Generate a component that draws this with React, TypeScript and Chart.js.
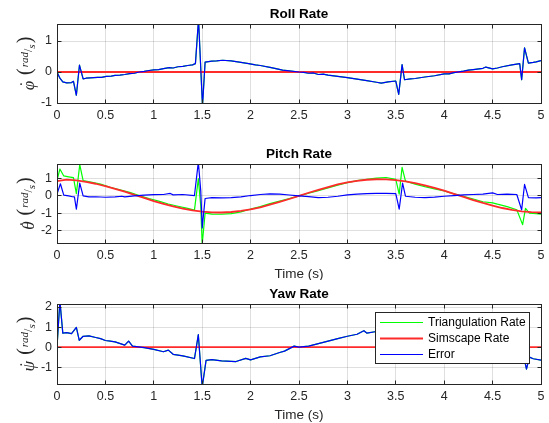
import React, { useEffect, useRef } from "react";
import { Chart, registerables } from "chart.js";

Chart.register(...registerables);

// ---------- shared ----------
const seriesNames = ["Triangulation Rate", "Simscape Rate", "Error"];
const seriesColors = ["#00ff00", "#ff2a2a", "#0000ff"];
const seriesWidths = [1.2, 1.8, 1.2];
const timeTicks = [0, 0.5, 1, 1.5, 2, 2.5, 3, 3.5, 4, 4.5, 5];
const timeTickLabels = ["0", "0.5", "1", "1.5", "2", "2.5", "3", "3.5", "4", "4.5", "5"];
const timeRange = [0, 5];
const xLabelText = "Time (s)";

// ---------- Roll Rate ----------
const rollTitle = "Roll Rate";
const rollSymbol = "φ";
const rollYTicks = [-1, 0, 1];
const rollYTickLabels = ["-1", "0", "1"];
const rollYRange = [-1, 1.55];
const rollErrorTime = [
  0, 0.03, 0.06, 0.1, 0.15, 0.17, 0.2, 0.232, 0.27, 0.3, 0.34, 0.38, 0.42, 0.46, 0.51, 0.56, 0.6, 0.65, 0.7, 0.75,
  0.8, 0.85, 0.9, 0.95, 1.0, 1.05, 1.1, 1.16, 1.2, 1.25, 1.3, 1.35, 1.4, 1.43, 1.462, 1.503, 1.53, 1.6, 1.65, 1.71,
  1.8, 1.9, 1.98, 2.05, 2.1, 2.2, 2.25, 2.33, 2.4, 2.5, 2.55, 2.6, 2.65, 2.7, 2.75, 2.8, 2.9, 3.0, 3.1, 3.2,
  3.3, 3.35, 3.42, 3.5, 3.53, 3.565, 3.59, 3.65, 3.7, 3.8, 3.9, 4.0, 4.05, 4.1, 4.2, 4.25, 4.3, 4.4, 4.43, 4.5,
  4.55, 4.6, 4.7, 4.78, 4.8, 4.83, 4.87, 4.92, 4.95, 5.0,
];
const rollErrorValue = [
  0, -0.2, -0.32, -0.35, -0.34, -0.3, -0.75, 0.22, -0.22, -0.2, -0.19, -0.18, -0.17, -0.17, -0.14, -0.13, -0.11, -0.1, -0.08, -0.05,
  -0.04, 0.0, 0.02, 0.05, 0.07, 0.08, 0.11, 0.14, 0.13, 0.17, 0.18, 0.21, 0.23, 0.27, 1.7, -1.1, 0.32, 0.35, 0.36, 0.38,
  0.36, 0.31, 0.27, 0.23, 0.21, 0.15, 0.12, 0.06, 0.04, 0.0, -0.01, -0.04, -0.03, -0.08, -0.07, -0.1, -0.14, -0.18, -0.23, -0.28,
  -0.33, -0.36, -0.32, -0.29, -0.72, 0.24, -0.25, -0.22, -0.21, -0.16, -0.12, -0.06, -0.06, -0.02, 0.03, 0.06, 0.08, 0.12, 0.16, 0.1,
  0.13, 0.17, 0.23, 0.27, -0.25, 0.78, 0.29, 0.31, 0.33, 0.37,
];
const rollSimTime = [0, 5];
const rollSimValue = [0, 0];
// triangulation equals the error here (Simscape rate is zero), hidden under the blue line
const rollTriTime = rollErrorTime;
const rollTriValue = rollErrorValue;

// ---------- Pitch Rate ----------
const pitchTitle = "Pitch Rate";
const pitchSymbol = "θ";
const pitchYTicks = [-2, -1, 0, 1];
const pitchYTickLabels = ["-2", "-1", "0", "1"];
const pitchYRange = [-2.72, 1.84];
const pitchSimTime = [
  0, 0.1, 0.2, 0.3, 0.4, 0.5, 0.6, 0.7, 0.8, 0.9, 1.0, 1.1, 1.2, 1.3, 1.4, 1.5, 1.6, 1.7, 1.8, 1.9,
  2.0, 2.1, 2.2, 2.3, 2.4, 2.5, 2.6, 2.7, 2.8, 2.9, 3.0, 3.1, 3.2, 3.3, 3.4, 3.5, 3.6, 3.7, 3.8, 3.9,
  4.0, 4.1, 4.2, 4.3, 4.4, 4.5, 4.6, 4.7, 4.8, 4.9, 5.0,
];
const pitchSimValue = [
  0.85, 0.94, 0.89, 0.81, 0.7, 0.56, 0.41, 0.24, 0.06, -0.12, -0.3, -0.46, -0.61, -0.74, -0.84, -0.91, -0.95, -0.96, -0.93, -0.87,
  -0.78, -0.66, -0.51, -0.35, -0.18, 0.0, 0.18, 0.35, 0.51, 0.66, 0.78, 0.87, 0.93, 0.96, 0.95, 0.91, 0.84, 0.74, 0.61, 0.46,
  0.3, 0.12, -0.06, -0.24, -0.41, -0.56, -0.7, -0.81, -0.89, -0.94, -0.96,
];
const pitchTriTime = [
  0, 0.03, 0.07, 0.12, 0.17, 0.2, 0.235, 0.27, 0.35, 0.45, 0.55, 0.65, 0.75, 0.85, 0.95, 1.05, 1.15, 1.25, 1.35, 1.42,
  1.46, 1.485, 1.5, 1.53, 1.6, 1.7, 1.8, 1.9, 2.0, 2.1, 2.2, 2.3, 2.4, 2.5, 2.6, 2.7, 2.8, 2.9, 3.0, 3.1,
  3.2, 3.3, 3.4, 3.5, 3.535, 3.565, 3.6, 3.7, 3.8, 3.9, 4.0, 4.1, 4.2, 4.3, 4.4, 4.5, 4.55, 4.65, 4.75, 4.81,
  4.84, 4.88, 4.95, 5.0,
];
const pitchTriValue = [
  0.9, 1.55, 1.15, 1.1, 1.05, 0.13, 1.8, 0.88, 0.8, 0.68, 0.5, 0.35, 0.2, 0.02, -0.15, -0.3, -0.47, -0.6, -0.72, -0.82,
  1.0, -0.6, -2.8, -1.0, -1.05, -1.06, -1.02, -0.92, -0.76, -0.62, -0.45, -0.3, -0.15, 0.0, 0.15, 0.3, 0.46, 0.62, 0.76, 0.88,
  0.96, 1.02, 1.06, 0.95, 0.1, 1.65, 0.85, 0.68, 0.53, 0.4, 0.28, 0.12, -0.03, -0.18, -0.34, -0.4, -0.48, -0.62, -0.8, -1.66,
  -0.72, -1.0, -1.03, -1.05,
];
const pitchErrorTime = [
  0, 0.035, 0.07, 0.12, 0.16, 0.18, 0.2, 0.235, 0.27, 0.33, 0.4, 0.5, 0.6, 0.67, 0.7, 0.8, 0.9, 1.0, 1.1, 1.17,
  1.2, 1.3, 1.42, 1.46, 1.485, 1.5, 1.53, 1.6, 1.7, 1.8, 1.9, 2.0, 2.1, 2.2, 2.3, 2.4, 2.5, 2.6, 2.7, 2.8,
  2.9, 3.0, 3.1, 3.2, 3.3, 3.4, 3.5, 3.535, 3.57, 3.6, 3.7, 3.8, 3.9, 4.0, 4.1, 4.2, 4.3, 4.4, 4.5, 4.55,
  4.65, 4.75, 4.8, 4.83, 4.87, 4.95, 5.0,
];
const pitchErrorValue = [
  0.1, 0.7, 0.04, 0.0, -0.05, -0.06, -0.77, 0.74, 0.0, -0.06, -0.05, -0.08, -0.06, -0.02, -0.06, 0.0, 0.04, 0.07, 0.08, 0.14,
  0.06, 0.08, 0.02, 1.95, 0.3, -1.85, -0.15, -0.1, -0.12, -0.1, -0.06, 0.02, 0.08, 0.12, 0.1, 0.05, 0.0, -0.04, -0.1, -0.08,
  -0.02, 0.06, 0.1, 0.13, 0.15, 0.14, 0.13, -0.77, 0.74, -0.02, -0.08, -0.1, -0.07, -0.02, 0.02, 0.06, 0.08, 0.1, 0.17, 0.08,
  0.1, 0.08, -0.81, 0.66, -0.1, -0.12, -0.1,
];

// ---------- Yaw Rate ----------
const yawTitle = "Yaw Rate";
const yawSymbol = "ψ";
const yawYTicks = [-1, 0, 1, 2];
const yawYTickLabels = ["-1", "0", "1", "2"];
const yawYRange = [-1.84, 2.15];
const yawErrorTime = [
  0, 0.03, 0.06, 0.1, 0.15, 0.2, 0.23, 0.27, 0.33, 0.4, 0.45, 0.5, 0.55, 0.6, 0.7, 0.74, 0.78, 0.9, 1.0, 1.1,
  1.15, 1.2, 1.3, 1.42, 1.46, 1.5, 1.54, 1.6, 1.7, 1.85, 1.95, 2.0, 2.1, 2.2, 2.3, 2.35, 2.45, 2.5, 2.6, 2.7,
  2.8, 2.9, 3.0, 3.1, 3.17, 3.2, 3.3, 3.4, 3.5, 3.55, 3.6, 3.8, 4.0, 4.2, 4.4, 4.6, 4.8, 4.83, 4.85, 4.88,
  4.92, 5.0,
];
const yawErrorValue = [
  0.0, 2.3, 0.7, 0.72, 0.67, 0.98, 0.34, 0.54, 0.56, 0.48, 0.42, 0.33, 0.3, 0.26, 0.1, 0.3, 0.05, -0.03, -0.11, -0.23,
  -0.15, -0.36, -0.44, -0.57, 0.62, -2.0, -0.66, -0.62, -0.69, -0.72, -0.56, -0.64, -0.49, -0.43, -0.27, -0.2, 0.05, 0.0, 0.05, 0.17,
  0.3, 0.42, 0.54, 0.64, 0.82, 0.7, 0.78, 0.8, 0.85, 1.2, 0.7, 0.5, 0.25, 0.0, -0.2, -0.4, -0.55, -0.65, -1.1, -0.5,
  -0.58, -0.65,
];
const yawSimTime = [0, 5];
const yawSimValue = [0, 0];
const yawTriTime = yawErrorTime;
const yawTriValue = yawErrorValue;

// ---------- styling ----------
const axisColor = "#262626";
const gridColor = "rgba(38,38,38,0.15)";
const sansFamily = '"Liberation Sans", Arial, Helvetica, sans-serif';
const serifFamily = '"Liberation Serif", "DejaVu Serif", serif';

Chart.defaults.font.family = sansFamily;

const toXY = (t: number[], v: number[]) => t.map((x, i) => ({ x, y: v[i] }));
const align = (p: number) => Math.round(p - 0.5) + 0.5;

function drawYLabel(ctx: CanvasRenderingContext2D, sym: string, baseX: number, cy: number) {
  const parts = [
    { t: sym, f: `italic 17px ${serifFamily}`, dy: 0, gap: 6, dot: true },
    { t: "(", f: `20px ${serifFamily}`, dy: -3, gap: 1, dot: false },
    { t: "rad", f: `italic 11px ${serifFamily}`, dy: -6, gap: 0, dot: false },
    { t: "/", f: `12px ${serifFamily}`, dy: -2, gap: 0, dot: false },
    { t: "s", f: `italic 11px ${serifFamily}`, dy: 1, gap: 1, dot: false },
    { t: ")", f: `20px ${serifFamily}`, dy: -3, gap: 0, dot: false },
  ];
  ctx.save();
  let total = 0;
  const widths = parts.map((p) => {
    ctx.font = p.f;
    const w = ctx.measureText(p.t).width;
    total += w + p.gap;
    return w;
  });
  ctx.translate(baseX, cy);
  ctx.rotate(-Math.PI / 2);
  ctx.fillStyle = axisColor;
  ctx.textAlign = "left";
  ctx.textBaseline = "alphabetic";
  let x = -total / 2;
  parts.forEach((p, i) => {
    ctx.font = p.f;
    ctx.fillText(p.t, x, p.dy);
    if (p.dot) {
      ctx.textAlign = "center";
      ctx.font = `16px ${serifFamily}`;
      ctx.fillText("\u02D9", x + widths[i] / 2 + 1.5, -3);
      ctx.textAlign = "left";
    }
    x += widths[i] + p.gap;
  });
  ctx.restore();
}

type PanelSpec = {
  title: string;
  symbol: string;
  yTicks: number[];
  yTickLabels: string[];
  yRange: number[];
  tri: [number[], number[]];
  sim: [number[], number[]];
  err: [number[], number[]];
  xlabel: boolean;
  legend: boolean;
};

function makeDecor(spec: PanelSpec) {
  return {
    id: "decor",
    afterDraw(chart: any) {
      const { ctx, chartArea: a, scales } = chart;
      const L = align(a.left);
      const R = align(a.right);
      const T = align(a.top);
      const B = align(a.bottom);
      ctx.save();
      ctx.strokeStyle = axisColor;
      ctx.lineWidth = 1;
      ctx.beginPath();
      for (const tk of scales.x.ticks) {
        const px = align(scales.x.getPixelForValue(tk.value));
        ctx.moveTo(px, B);
        ctx.lineTo(px, B - 4);
        ctx.moveTo(px, T);
        ctx.lineTo(px, T + 4);
      }
      for (const tk of scales.y.ticks) {
        const py = align(scales.y.getPixelForValue(tk.value));
        ctx.moveTo(L, py);
        ctx.lineTo(L + 4, py);
        ctx.moveTo(R, py);
        ctx.lineTo(R - 4, py);
      }
      ctx.stroke();
      ctx.strokeRect(L, T, R - L, B - T);

      const cx = (a.left + a.right) / 2;
      ctx.textAlign = "center";
      ctx.textBaseline = "middle";
      ctx.fillStyle = "#000";
      ctx.font = `bold 13.5px ${sansFamily}`;
      ctx.fillText(spec.title, cx, a.top - 10);

      if (spec.xlabel) {
        ctx.fillStyle = axisColor;
        ctx.font = `13.5px ${sansFamily}`;
        ctx.fillText(xLabelText, cx, a.bottom + 31);
      }
      ctx.restore();

      drawYLabel(ctx, spec.symbol, 34, (a.top + a.bottom) / 2);

      if (spec.legend) {
        const lw = 154;
        const lh = 51;
        const lx = Math.round(a.right) - 12 - lw;
        const ly = Math.round(a.top) + 8;
        ctx.save();
        ctx.fillStyle = "#fff";
        ctx.fillRect(lx, ly, lw, lh);
        ctx.strokeStyle = axisColor;
        ctx.lineWidth = 1;
        ctx.strokeRect(lx + 0.5, ly + 0.5, lw, lh);
        ctx.font = `12px ${sansFamily}`;
        ctx.textAlign = "left";
        ctx.textBaseline = "middle";
        seriesNames.forEach((name, i) => {
          const ry = ly + 10 + i * 16;
          ctx.strokeStyle = seriesColors[i];
          ctx.lineWidth = seriesWidths[i];
          ctx.beginPath();
          ctx.moveTo(lx + 5, ry + 0.5);
          ctx.lineTo(lx + 48, ry + 0.5);
          ctx.stroke();
          ctx.fillStyle = "#000";
          ctx.fillText(name, lx + 53, ry + 1);
        });
        ctx.restore();
      }
    },
  };
}

function buildConfig(spec: PanelSpec, padBottom: number): any {
  const series = [spec.tri, spec.sim, spec.err];
  return {
    type: "line",
    data: {
      datasets: series.map((s, i) => ({
        label: seriesNames[i],
        data: toXY(s[0], s[1]),
        borderColor: seriesColors[i],
        backgroundColor: seriesColors[i],
        borderWidth: seriesWidths[i],
        pointRadius: 0,
        tension: 0,
        borderJoinStyle: "round",
        fill: false,
        order: 3 - i,
      })),
    },
    options: {
      animation: false,
      responsive: false,
      devicePixelRatio: 1,
      events: [],
      layout: { padding: { top: 24, bottom: padBottom, left: 0, right: 8 } },
      plugins: {
        legend: { display: false },
        title: { display: false },
        tooltip: { enabled: false },
      },
      scales: {
        x: {
          type: "linear",
          min: timeRange[0],
          max: timeRange[1],
          afterBuildTicks: (s: any) => {
            s.ticks = timeTicks.map((v) => ({ value: v }));
          },
          afterFit: (s: any) => {
            s.height = 20;
            s.paddingLeft = 0;
            s.paddingRight = 0;
          },
          grid: { color: gridColor, drawTicks: false, lineWidth: 1 },
          border: { display: false },
          ticks: {
            padding: 5,
            color: axisColor,
            font: { size: 12.5 },
            maxRotation: 0,
            autoSkip: false,
            callback: (_v: any, i: number) => timeTickLabels[i],
          },
        },
        y: {
          type: "linear",
          min: spec.yRange[0],
          max: spec.yRange[1],
          afterBuildTicks: (s: any) => {
            s.ticks = spec.yTicks.map((v) => ({ value: v }));
          },
          afterFit: (s: any) => {
            s.width = 57;
            s.paddingTop = 0;
            s.paddingBottom = 0;
          },
          grid: { color: gridColor, drawTicks: false, lineWidth: 1 },
          border: { display: false },
          ticks: {
            padding: 5,
            color: axisColor,
            font: { size: 12.5 },
            autoSkip: false,
            callback: (_v: any, i: number) => spec.yTickLabels[i],
          },
        },
      },
    },
    plugins: [makeDecor(spec)],
  };
}

function Panel({ spec, top, height, padBottom }: { spec: PanelSpec; top: number; height: number; padBottom: number }) {
  const ref = useRef<HTMLCanvasElement>(null);
  useEffect(() => {
    const chart = new Chart(ref.current as HTMLCanvasElement, buildConfig(spec, padBottom));
    return () => chart.destroy();
  }, []);
  return (
    <canvas
      ref={ref}
      width={549}
      height={height}
      style={{ position: "absolute", left: 0, top, width: 549, height, display: "block" }}
    />
  );
}

const rollSpec: PanelSpec = {
  title: rollTitle,
  symbol: rollSymbol,
  yTicks: rollYTicks,
  yTickLabels: rollYTickLabels,
  yRange: rollYRange,
  tri: [rollTriTime, rollTriValue],
  sim: [rollSimTime, rollSimValue],
  err: [rollErrorTime, rollErrorValue],
  xlabel: false,
  legend: false,
};
const pitchSpec: PanelSpec = {
  title: pitchTitle,
  symbol: pitchSymbol,
  yTicks: pitchYTicks,
  yTickLabels: pitchYTickLabels,
  yRange: pitchYRange,
  tri: [pitchTriTime, pitchTriValue],
  sim: [pitchSimTime, pitchSimValue],
  err: [pitchErrorTime, pitchErrorValue],
  xlabel: true,
  legend: false,
};
const yawSpec: PanelSpec = {
  title: yawTitle,
  symbol: yawSymbol,
  yTicks: yawYTicks,
  yTickLabels: yawYTickLabels,
  yRange: yawYRange,
  tri: [yawTriTime, yawTriValue],
  sim: [yawSimTime, yawSimValue],
  err: [yawErrorTime, yawErrorValue],
  xlabel: true,
  legend: true,
};

export default function App() {
  return (
    <div style={{ position: "fixed", left: 0, top: 0, width: 549, height: 423, background: "#fff", overflow: "hidden" }}>
      <Panel spec={rollSpec} top={0} height={140} padBottom={17} />
      <Panel spec={pitchSpec} top={140} height={140} padBottom={17} />
      <Panel spec={yawSpec} top={280} height={143} padBottom={19} />
    </div>
  );
}
